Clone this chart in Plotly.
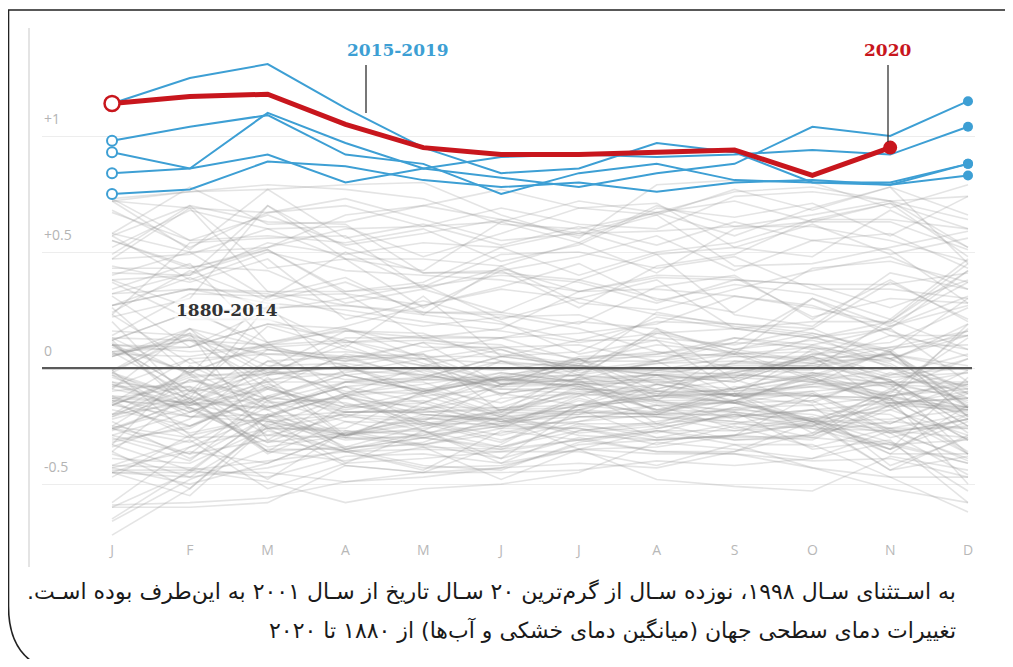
import plotly.graph_objects as go

months = ["J", "F", "M", "A", "M", "J", "J", "A", "S", "O", "N", "D"]
month_idx = list(range(12))

gray_first_year = 1880
# monthly anomalies, hundredths of a degree, 1880..2014 (one row per year)
gray_anomaly_hundredths = [
    [-18, -25, -9, -17, -10, -21, -18, -10, -15, -23, -22, -18],
    [-20, -15, 3, 5, 6, -19, 0, -3, -15, -22, -18, -7],
    [16, 14, 5, -16, -14, -23, -16, -7, -14, -23, -16, -36],
    [-29, -37, -12, -19, -18, -7, -7, -14, -22, -11, -24, -11],
    [-13, -8, -36, -40, -34, -35, -31, -27, -27, -25, -33, -31],
    [-58, -34, -26, -42, -45, -43, -33, -31, -29, -23, -24, -10],
    [-43, -50, -41, -28, -27, -39, -18, -30, -24, -26, -27, -25],
    [-66, -48, -35, -35, -30, -25, -26, -33, -25, -34, -26, -40],
    [-43, -36, -41, -28, -22, -19, -9, -11, -9, 2, -5, -28],
    [-9, 17, -2, 10, -2, -11, -7, -18, -19, -24, -26, -26],
    [-44, -44, -40, -36, -44, -27, -31, -36, -36, -23, -44, -29],
    [-45, -45, -20, -29, -17, -23, -21, -19, -14, -22, -35, -4],
    [-27, -13, -36, -34, -25, -20, -28, -25, -17, -16, -42, -30],
    [-72, -52, -23, -30, -33, -26, -13, -21, -24, -18, -20, -37],
    [-47, -29, -22, -41, -27, -41, -27, -24, -21, -18, -26, -20],
    [-39, -41, -26, -20, -22, -22, -16, -12, -11, -12, -13, -17],
    [-20, -9, -29, -30, -15, -3, 1, -3, -6, 5, -16, -10],
    [-14, -16, -13, -1, -3, -8, -7, -6, -4, -6, -14, -18],
    [-1, -29, -48, -27, -29, -18, -19, -20, -20, -26, -35, -23],
    [-15, -28, -21, -11, -18, -25, -12, -1, 2, 1, -5, -25],
    [-36, -10, 0, -11, -7, -2, -6, -3, -2, 5, -6, -6],
    [-21, -11, -2, -3, -10, -5, -8, -16, -18, -20, -28, -22],
    [-16, -2, -26, -27, -33, -28, -21, -21, -23, -30, -33, -41],
    [-20, -1, -18, -34, -33, -39, -30, -36, -37, -40, -39, -47],
    [-60, -45, -45, -49, -45, -45, -44, -40, -42, -39, -27, -39],
    [-36, -52, -24, -31, -29, -25, -23, -20, -23, -25, -9, -17],
    [-26, -32, -17, -8, -24, -19, -20, -16, -26, -21, -37, -16],
    [-37, -47, -27, -36, -43, -42, -35, -34, -29, -24, -44, -38],
    [-42, -31, -52, -41, -39, -36, -36, -42, -33, -43, -47, -47],
    [-65, -44, -49, -58, -52, -50, -45, -32, -35, -39, -32, -53],
    [-42, -43, -47, -38, -37, -41, -35, -37, -37, -43, -52, -58],
    [-59, -58, -56, -49, -47, -43, -41, -43, -36, -28, -23, -26],
    [-26, -14, -36, -16, -20, -22, -35, -48, -51, -53, -38, -44],
    [-45, -47, -43, -35, -42, -44, -32, -27, -31, -29, -16, -18],
    [-4, -15, -23, -29, -20, -23, -18, -12, -15, -2, -7, -9],
    [-21, -5, -13, -3, 0, -11, -7, -15, -15, -23, -10, -17],
    [-14, -17, -32, -28, -34, -48, -35, -27, -33, -33, -47, -62],
    [-60, -60, -58, -42, -45, -33, -16, -14, -19, -35, -31, -58],
    [-45, -34, -20, -35, -30, -23, -24, -24, -14, -3, -13, -31],
    [-16, -21, -20, -12, -27, -34, -25, -28, -19, -23, -37, -37],
    [-9, -16, -6, -30, -30, -34, -27, -23, -17, -23, -28, -46],
    [-3, -21, -16, -29, -26, -21, -8, -18, -14, -4, -15, -13],
    [-30, -40, -14, -23, -30, -35, -24, -30, -30, -29, -12, -18],
    [-26, -37, -31, -36, -32, -21, -29, -31, -29, -12, -6, -7],
    [-14, -30, -4, -29, -21, -26, -26, -31, -29, -31, -16, -37],
    [-32, -25, -13, -15, -23, -31, -23, -16, -15, -14, -3, 0],
    [9, -2, 11, -12, -20, -22, -20, -7, -12, -12, -13, -31],
    [-26, -17, -34, -29, -24, -24, -14, -20, -9, -3, -7, -37],
    [-2, -13, -37, -23, -24, -32, -16, -19, -21, -18, -15, -19],
    [-45, -55, -25, -36, -35, -36, -31, -26, -20, -22, -13, -50],
    [-29, -19, -8, -19, -19, -18, -17, -13, -11, -7, 8, -17],
    [-7, -19, -7, -17, -15, -5, -3, -6, -9, -2, -12, -6],
    [11, -15, -17, -8, -15, -25, -18, -20, -11, -11, -28, -22],
    [-25, -30, -29, -21, -23, -29, -21, -21, -27, -22, -32, -41],
    [-16, -3, -26, -26, -10, -2, -6, -11, -15, -10, -7, -13],
    [-33, 1, -14, -35, -28, -24, -19, -20, -18, -14, -30, -22],
    [-23, -39, -21, -19, -19, -17, -6, -10, -12, -7, -6, 4],
    [-8, 4, -17, -12, -4, -4, -1, 3, 11, 9, 1, -17],
    [6, 5, 10, 1, -9, -15, -4, -3, 2, 13, 7, -21],
    [-8, -8, -17, -8, -5, -5, -6, -5, -3, -4, 7, 30],
    [-15, 4, 6, 7, 4, 9, 10, 3, 13, 8, 11, 26],
    [12, 24, 11, 16, 13, 13, 20, 17, 6, 30, 14, 14],
    [23, 2, 8, 5, 4, 2, 1, -3, -4, 6, 9, 10],
    [-1, 13, -9, 6, 1, -8, 5, 6, 11, 30, 18, 27],
    [37, 21, 21, 11, 14, 13, 15, 19, 31, 27, 16, 5],
    [10, -2, 10, 12, 2, -6, 1, 24, 18, 14, 0, -15],
    [13, -3, -3, 1, -12, -21, -4, -9, -1, -2, -5, -25],
    [-12, -15, -3, 1, -11, 3, -7, -4, -4, 10, 2, -16],
    [7, -12, -21, -6, -1, -9, -9, -10, -10, -8, -6, -22],
    [10, -10, -6, -6, -9, -20, -11, -7, -12, -8, -12, -20],
    [-31, -26, -8, -21, -11, -4, -9, -18, -11, -23, -35, -20],
    [-33, -44, -21, -11, 1, -1, 4, 7, 5, 4, -9, 13],
    [13, 12, -6, 5, -5, -5, 3, 3, 7, -4, -17, -1],
    [6, 12, 10, 17, 9, 9, 4, 5, 6, 7, -3, 6],
    [-25, -5, -15, -13, -17, -17, -16, -12, -9, -3, 7, -17],
    [12, -18, -32, -19, -18, -11, -16, -3, -12, -10, -27, -30],
    [-13, -21, -23, -20, -27, -13, -11, -26, -20, -25, -15, -13],
    [-10, -6, -2, 0, 7, 13, 3, 10, 7, 2, 9, 16],
    [38, 26, 8, 3, 6, -7, 4, -7, -2, 4, 6, 1],
    [7, 9, 19, 12, 5, 5, 1, -1, -3, -5, -8, -2],
    [-2, 15, -31, -12, -9, -4, -3, 2, 6, -5, -14, 19],
    [5, 17, 9, 11, 12, 10, -2, 2, 3, 0, 6, -11],
    [7, 12, 6, 4, -4, 5, 1, -2, 1, 1, 6, -1],
    [-1, 17, -14, -6, -4, 5, 7, 22, 17, 13, 17, -6],
    [-6, -10, -22, -29, -23, -7, -5, -24, -31, -30, -18, -29],
    [-7, -16, -9, -18, -12, -9, -11, -14, -14, -6, -12, -7],
    [-16, -4, -1, -10, -11, -4, 4, -10, -5, -15, -2, -11],
    [-6, -19, -5, -2, 4, -7, -5, -3, -6, 5, -4, -2],
    [-22, -13, 27, -3, -10, -4, -8, -5, -12, 8, -6, -14],
    [-13, -15, 0, 16, 15, 3, 0, -1, 5, 5, 18, 31],
    [5, 15, 1, 2, -3, -8, 2, -12, 8, 3, 4, -13],
    [-3, -13, -18, -6, -6, -18, -12, -9, -2, -6, 0, -8],
    [-34, -22, 3, -5, -5, 3, -4, 17, -5, 6, 3, 19],
    [27, 34, 33, 27, 23, 19, 12, 12, 6, 9, 4, -9],
    [-12, -25, -12, -3, -10, -5, -5, 3, -12, -16, -12, -9],
    [10, 7, 9, 4, 11, -7, -3, -19, -8, -12, -15, -17],
    [-2, -17, -25, -12, -25, -18, -10, -12, -11, -28, -10, 4],
    [12, 24, 26, 27, 24, 23, 17, 7, 0, -1, 21, 8],
    [10, 9, 19, 17, 4, -12, 4, -14, 3, 2, 14, 8],
    [10, -10, 18, 8, 1, 8, -3, 15, 17, 20, 20, 45],
    [27, 39, 25, 30, 36, 21, 30, 23, 19, 17, 37, 21],
    [55, 43, 51, 32, 27, 34, 30, 38, 17, 13, 20, 42],
    [5, 14, -3, 13, 13, 6, 2, 6, 13, 10, 17, 42],
    [55, 44, 42, 28, 34, 24, 19, 35, 40, 21, 38, 20],
    [31, 9, 25, 9, 31, 5, 12, 20, 19, 15, 7, -21],
    [20, -14, 8, 3, 11, 8, -1, 16, 8, 12, 4, 16],
    [27, 34, 28, 25, 20, 16, 11, 15, 8, 15, 8, 14],
    [34, 45, 11, 18, 27, 35, 45, 29, 36, 32, 21, 47],
    [57, 38, 50, 42, 40, 38, 33, 39, 38, 36, 26, 38],
    [14, 32, 31, 32, 13, 17, 33, 34, 31, 26, 19, 37],
    [38, 40, 70, 52, 41, 41, 38, 30, 24, 43, 46, 37],
    [40, 50, 30, 50, 35, 49, 50, 43, 48, 34, 34, 30],
    [44, 37, 47, 21, 29, 20, 6, 12, -10, -5, -11, 17],
    [32, 34, 32, 23, 18, 22, 23, 13, 10, 17, 4, 14],
    [26, -3, 31, 39, 23, 44, 28, 25, 34, 42, 48, 34],
    [49, 70, 43, 47, 26, 42, 48, 57, 42, 55, 51, 28],
    [24, 42, 29, 37, 24, 24, 38, 49, 23, 18, 41, 34],
    [32, 41, 51, 33, 37, 52, 40, 50, 54, 64, 64, 60],
    [58, 78, 62, 63, 70, 77, 69, 66, 44, 45, 52, 59],
    [47, 69, 33, 33, 35, 40, 37, 28, 38, 36, 36, 41],
    [23, 54, 56, 57, 34, 43, 33, 40, 39, 22, 30, 28],
    [41, 40, 54, 49, 54, 52, 59, 49, 52, 48, 68, 52],
    [72, 76, 77, 56, 62, 53, 61, 53, 63, 55, 58, 43],
    [73, 55, 57, 54, 60, 46, 53, 69, 65, 71, 57, 74],
    [57, 70, 63, 62, 41, 42, 26, 44, 49, 64, 71, 48],
    [68, 52, 67, 70, 61, 69, 62, 60, 74, 76, 72, 64],
    [52, 68, 60, 47, 42, 63, 54, 70, 61, 66, 72, 74],
    [72, 69, 67, 73, 64, 55, 58, 59, 61, 61, 55, 46],
    [22, 30, 70, 47, 47, 44, 54, 41, 60, 63, 63, 51],
    [58, 50, 52, 60, 61, 63, 72, 67, 72, 63, 71, 60],
    [73, 76, 79, 77, 73, 62, 60, 67, 57, 69, 78, 45],
    [47, 49, 60, 61, 48, 58, 69, 71, 52, 62, 49, 56],
    [43, 43, 52, 66, 70, 64, 58, 67, 76, 78, 72, 52],
    [67, 55, 66, 53, 58, 64, 57, 66, 77, 68, 78, 66],
    [72, 51, 77, 79, 80, 66, 56, 79, 81, 80, 69, 79],
]

blue_2015 = [0.84, 0.86, 0.92, 0.80, 0.86, 0.82, 0.78, 0.84, 0.88, 1.04, 1.00, 1.15]
blue_2016 = [1.14, 1.25, 1.31, 1.12, 0.95, 0.84, 0.86, 0.97, 0.93, 0.80, 0.79, 0.83]
blue_2017 = [0.98, 1.04, 1.09, 0.92, 0.88, 0.75, 0.84, 0.88, 0.81, 0.80, 0.80, 0.88]
blue_2018 = [0.75, 0.77, 0.89, 0.87, 0.81, 0.78, 0.80, 0.76, 0.80, 0.81, 0.79, 0.88]
blue_2019 = [0.93, 0.86, 1.10, 0.97, 0.86, 0.91, 0.92, 0.91, 0.92, 0.94, 0.92, 1.04]
blue_series = [blue_2015, blue_2016, blue_2017, blue_2018, blue_2019]

red_2020 = [1.14, 1.17, 1.18, 1.05, 0.95, 0.92, 0.92, 0.93, 0.94, 0.83, 0.95]

y_tick_values = [1.0, 0.5, 0.0, -0.5]
y_tick_labels = ["+1", "+0.5", "0", "-0.5"]

caption_line1 = "به اسـتثنای سـال ۱۹۹۸، نوزده سـال از گرم‌ترین ۲۰ سـال تاریخ از سـال ۲۰۰۱ به این‌طرف بوده اسـت."
caption_line2 = "تغییرات دمای سطحی جهان (میانگین دمای خشکی و آب‌ها) از ۱۸۸۰ تا ۲۰۲۰"

BLUE = "#3d9fd4"
RED = "#c8161d"
GRAY = "rgba(150,150,150,0.26)"

# the page body has an 8px margin; figure is placed at (8, 8) of the window
OFF = 8
W, H = 1013 - 2 * OFF, 667 - 2 * OFF
PLOT_L, PLOT_R, PLOT_T, PLOT_B = 42, 975, 20, 540      # window pixels
ML, MR = PLOT_L - OFF, W - (PLOT_R - OFF)
MT, MB = PLOT_T - OFF, H - (PLOT_B - OFF)
PW, PH = PLOT_R - PLOT_L, PLOT_B - PLOT_T


def px(xw):
    return (xw - PLOT_L) / PW


def py(yw):
    return (PLOT_B - yw) / PH


def rtl(s):
    return "\u202b" + s + "\u202c"


fig = go.Figure()

for i, row in enumerate(gray_anomaly_hundredths):
    fig.add_trace(go.Scatter(
        x=month_idx, y=[v / 100 for v in row], mode="lines",
        line=dict(color=GRAY, width=1.6), hoverinfo="skip",
        name=str(gray_first_year + i), showlegend=False))

for s in blue_series:
    fig.add_trace(go.Scatter(
        x=month_idx, y=s, mode="lines", line=dict(color=BLUE, width=2),
        hoverinfo="skip", showlegend=False))
    fig.add_trace(go.Scatter(
        x=[month_idx[0]], y=[s[0]], mode="markers",
        marker=dict(size=10, color="white", line=dict(color=BLUE, width=2)),
        hoverinfo="skip", showlegend=False))
    fig.add_trace(go.Scatter(
        x=[month_idx[-1]], y=[s[-1]], mode="markers",
        marker=dict(size=10, color=BLUE), hoverinfo="skip", showlegend=False))

n_red = len(red_2020)
fig.add_trace(go.Scatter(
    x=month_idx[:n_red], y=red_2020, mode="lines",
    line=dict(color=RED, width=5), hoverinfo="skip", showlegend=False))
fig.add_trace(go.Scatter(
    x=[month_idx[0]], y=[red_2020[0]], mode="markers",
    marker=dict(size=15, color="white", line=dict(color=RED, width=2.5)),
    hoverinfo="skip", showlegend=False))
fig.add_trace(go.Scatter(
    x=[month_idx[n_red - 1]], y=[red_2020[-1]], mode="markers",
    marker=dict(size=14, color=RED), hoverinfo="skip", showlegend=False))

shapes = []
shapes.append(dict(type="line", xref="paper", yref="y", x0=0, x1=px(972), y0=0, y1=0,
                   line=dict(color="#5a5a5a", width=2.2), layer="above"))
shapes.append(dict(type="line", xref="paper", yref="paper", x0=px(29), x1=px(29),
                   y0=py(28), y1=py(567), line=dict(color="#e4e4e4", width=2)))
frame = (f"M {px(1005)},{py(10)} L {px(8.5)},{py(10)} L {px(8.5)},{py(606)} "
         f"Q {px(8.5)},{py(664)} {px(60)},{py(672)}")
shapes.append(dict(type="path", xref="paper", yref="paper", path=frame,
                   line=dict(color="#222", width=1.6)))
shapes.append(dict(type="line", xref="paper", yref="paper", x0=px(366), x1=px(366),
                   y0=py(65), y1=py(113), line=dict(color="#777", width=2)))
shapes.append(dict(type="line", xref="paper", yref="paper", x0=px(888), x1=px(888),
                   y0=py(65), y1=py(142), line=dict(color="#333", width=1.3)))

annotations = []
for v, t in zip(y_tick_values, y_tick_labels):
    annotations.append(dict(xref="paper", yref="y", x=0, y=v, text=t, showarrow=False,
                            xanchor="left", yanchor="bottom", yshift=6,
                            font=dict(family="Open Sans", size=14, color="#b4b4b4")))

serif = "DejaVu Serif"
for xw, yw, txt, col, bg in [(398, 50, "2015-2019", BLUE, "rgba(255,255,255,0.9)"),
                              (887, 50, "2020", RED, "rgba(255,255,255,0.9)"),
                              (227, 310, "1880-2014", "#333", "rgba(255,255,255,0.6)")]:
    annotations.append(dict(xref="paper", yref="paper", x=px(xw), y=py(yw),
                            text=f"<b>{txt}</b>", showarrow=False,
                            xanchor="center", yanchor="middle",
                            font=dict(family=serif, size=17, color=col), bgcolor=bg))

annotations.append(dict(xref="paper", yref="paper", x=px(958), y=py(591), text=rtl(caption_line1),
                        showarrow=False, xanchor="right", yanchor="middle",
                        font=dict(family="DejaVu Sans", size=22, color="#1a1a1a")))
annotations.append(dict(xref="paper", yref="paper", x=px(958), y=py(630), text=rtl(caption_line2),
                        showarrow=False, xanchor="right", yanchor="middle",
                        font=dict(family="DejaVu Sans", size=22, color="#1a1a1a")))

fig.update_layout(
    width=W, height=H,
    margin=dict(l=ML, r=MR, t=MT, b=MB, pad=0),
    paper_bgcolor="white", plot_bgcolor="white",
    shapes=shapes, annotations=annotations, showlegend=False,
    xaxis=dict(range=[-0.9, 11.09], tickvals=month_idx, ticktext=months,
               showgrid=False, zeroline=False, showline=False, ticks="",
               tickfont=dict(family="Open Sans", size=14, color="#b8b8b8"),
               fixedrange=True),
    yaxis=dict(range=[-0.741, 1.5], tickvals=y_tick_values, showticklabels=False,
               showgrid=True, gridcolor="#ededed", gridwidth=1, zeroline=False,
               showline=False, ticks="", fixedrange=True),
)

fig.write_html("out.html", config={"displayModeBar": False})
